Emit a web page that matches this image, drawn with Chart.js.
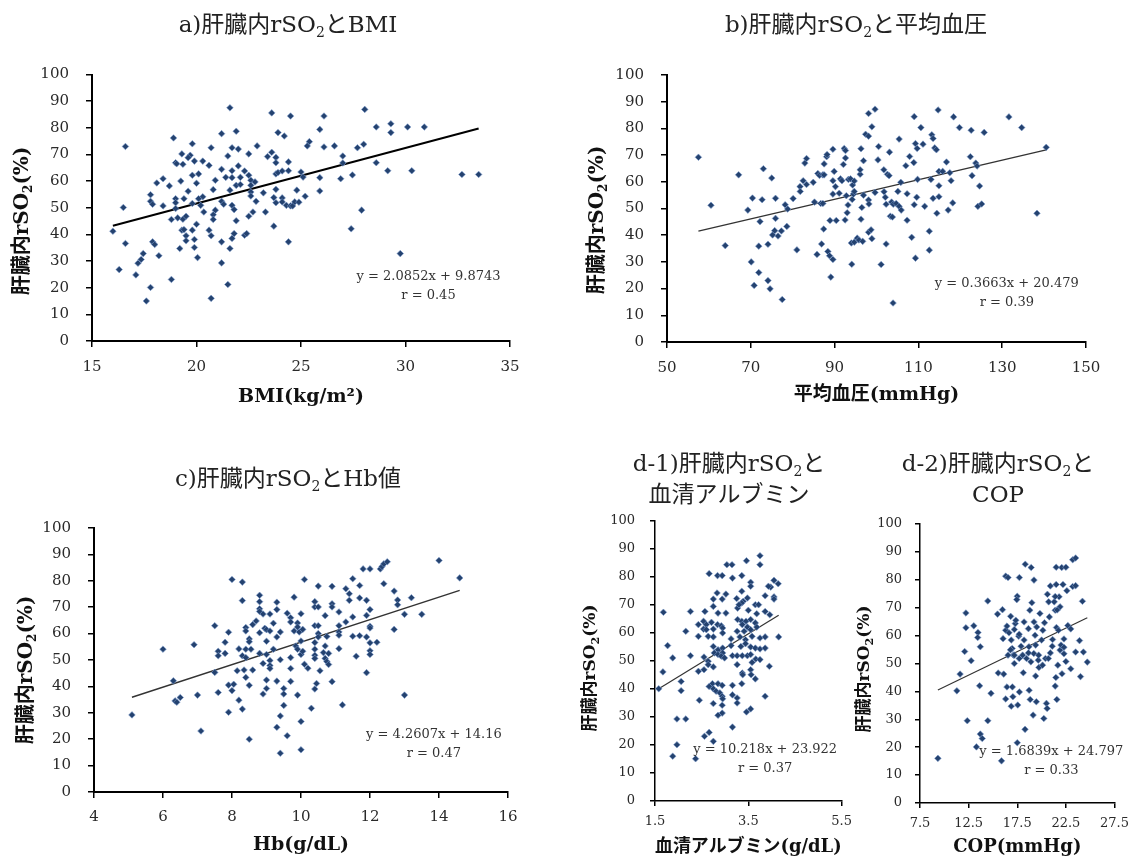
<!DOCTYPE html>
<html>
<head>
<meta charset="utf-8">
<script src="https://cdn.jsdelivr.net/npm/chart.js@4.4.1/dist/chart.umd.min.js"></script>
<style>
html, body { margin: 0; padding: 0; background: #fff; }
#wrap { position: relative; width: 1137px; height: 860px; overflow: hidden; }
.panel { position: absolute; }
</style>
</head>
<body>
<div id="wrap"></div>
<script>
// y axis (all panels)
const rso2Ticks = [0, 10, 20, 30, 40, 50, 60, 70, 80, 90, 100];

// a) BMI
const bmiTicks = [15, 20, 25, 30, 35];
const bmiFit = [2.0852, 9.8743, 0.45];
const bmiPts = [[21.6,87.5],[23.6,85.6],[24.5,84.4],[26.1,84.4],[28.05,86.9],[28.6,80.3],[29.3,81.5],[29.3,78.2],[30.1,80.3],[30.9,80.3],[25.9,79.4],[21.2,77.8],[21.9,78.7],[23.9,78.2],[24.2,76.9],[18.9,76.2],[19.8,74.0],[20.7,72.5],[21.7,72.5],[22.0,72.0],[22.9,73.2],[16.6,73.0],[25.4,74.8],[25.3,73.2],[26.1,72.8],[26.6,73.2],[27.7,72.5],[28.0,73.8],[19.3,70.2],[19.7,69.7],[19.6,68.8],[21.5,69.4],[22.5,70.2],[23.4,69.2],[23.8,68.9],[23.6,70.8],[19.0,66.9],[19.05,66.5],[19.35,66.3],[19.9,67.5],[20.3,67.5],[20.6,65.9],[22.0,65.7],[23.8,66.9],[24.4,67.2],[27.0,69.4],[27.0,66.8],[28.6,66.9],[18.4,60.9],[18.1,59.3],[19.25,60.0],[19.8,62.2],[20.1,62.7],[20.0,59.2],[21.2,64.4],[20.9,60.3],[21.4,61.4],[21.7,61.3],[21.7,63.9],[22.1,61.4],[22.3,63.8],[22.5,62.2],[22.6,60.3],[22.8,59.7],[23.2,55.6],[23.8,62.7],[23.9,63.2],[24.1,63.8],[24.4,63.9],[25.0,63.4],[25.1,61.5],[25.9,61.3],[25.9,56.3],[26.9,60.9],[27.46,62.3],[29.15,63.9],[30.3,63.9],[32.7,62.5],[33.5,62.5],[18.7,58.2],[19.6,56.2],[20.3,54.1],[20.1,53.4],[20.8,56.8],[21.6,56.6],[21.9,58.4],[22.1,58.7],[22.6,58.4],[22.6,55.9],[22.6,54.4],[23.7,53.8],[23.8,56.9],[24.1,53.7],[23.8,51.9],[24.1,52.2],[24.3,50.9],[24.5,50.7],[24.6,50.7],[24.7,52.2],[24.9,52.1],[24.8,56.6],[25.2,54.3],[17.8,54.9],[17.8,52.4],[17.9,51.3],[18.4,50.7],[16.5,50.1],[19.0,53.4],[19.0,51.9],[19.4,53.4],[19.0,49.7],[19.8,51.6],[20.2,50.9],[21.2,52.4],[21.3,51.3],[20.9,49.1],[21.7,50.9],[21.8,49.3],[22.85,52.4],[20.35,48.4],[20.8,47.4],[20.8,45.6],[21.9,45.1],[22.5,46.8],[22.7,48.4],[23.3,48.4],[18.8,45.6],[19.1,46.2],[19.35,45.7],[19.5,46.8],[27.9,49.1],[16.0,41.2],[16.6,36.6],[19.3,41.6],[19.4,41.8],[19.8,41.6],[20.0,43.8],[20.6,41.6],[20.7,39.5],[21.8,40.3],[21.7,38.5],[22.3,39.7],[22.4,40.3],[23.7,43.1],[27.4,42.1],[19.5,39.5],[19.5,37.6],[19.9,38.1],[17.9,37.2],[18.0,36.2],[21.2,37.2],[24.4,37.2],[19.9,35.1],[19.2,34.7],[21.6,34.7],[20.05,31.3],[18.2,32.0],[17.45,32.8],[17.35,30.6],[17.2,29.2],[21.2,29.3],[29.75,32.8],[16.3,26.8],[17.1,24.8],[18.8,23.1],[17.8,20.1],[21.5,21.2],[20.7,16.0],[17.6,15.0]];

// b) mean blood pressure
const mapTicks = [50, 70, 90, 110, 130, 150];
const mapFit = [0.3663, 20.479, 0.39];
const mapPts = [[57.5,69.2],[60.5,51.2],[63.9,36.1],[67.1,62.6],[69.3,49.4],[70.4,53.9],[70.1,30.0],[70.8,21.2],[71.9,26.0],[71.9,35.9],[72.2,45.1],[72.7,53.3],[73.0,64.9],[74.1,36.6],[74.1,23.0],[74.6,19.9],[75.0,61.4],[75.2,40.1],[75.7,41.7],[75.9,53.8],[75.9,46.3],[76.5,39.7],[77.3,41.6],[77.5,15.9],[78.2,51.4],[78.6,43.3],[78.8,49.8],[80.1,53.7],[81.0,34.5],[81.75,58.2],[81.8,56.4],[82.5,60.4],[82.9,67.0],[83.3,68.7],[83.3,59.0],[84.9,59.8],[85.2,52.4],[85.8,32.8],[86.0,63.1],[86.4,62.4],[86.7,51.9],[86.9,36.7],[87.2,62.6],[87.2,51.9],[87.5,66.7],[87.5,62.6],[87.4,42.3],[88.1,69.4],[88.2,70.2],[88.4,33.9],[88.8,32.3],[88.9,45.5],[89.1,24.3],[89.6,30.9],[89.6,72.2],[89.6,60.4],[89.6,55.4],[89.9,63.9],[90.2,58.2],[90.4,45.5],[91.1,55.7],[91.4,61.1],[91.75,60.4],[92.1,66.5],[92.3,72.5],[92.5,45.7],[92.6,71.7],[92.6,68.9],[92.8,54.8],[93.0,48.4],[93.2,51.3],[93.3,60.9],[93.8,61.1],[94.2,53.4],[94.3,58.8],[94.5,55.4],[94.1,29.1],[94.0,37.1],[94.7,60.3],[94.7,56.4],[94.7,37.4],[95.4,38.9],[95.8,38.2],[96.1,62.8],[96.1,64.5],[96.3,72.4],[96.3,46.0],[96.5,50.4],[96.7,37.7],[96.9,67.9],[96.9,55.0],[97.4,77.8],[98.1,85.6],[98.1,77.1],[98.1,53.2],[98.2,51.7],[98.1,41.1],[98.7,42.0],[98.9,80.6],[98.9,38.7],[99.65,87.2],[99.65,56.0],[100.5,73.2],[100.35,68.2],[101.1,29.0],[101.75,64.5],[101.8,56.3],[102.1,54.2],[102.3,51.6],[102.3,36.7],[102.6,62.8],[103.0,62.3],[103.1,71.1],[103.3,47.1],[103.6,52.4],[103.8,46.8],[103.95,14.6],[104.0,51.6],[104.7,51.9],[105.1,56.4],[105.4,76.0],[105.4,50.8],[105.9,49.4],[105.8,59.8],[107.0,66.0],[107.3,55.5],[107.3,45.6],[107.9,69.5],[108.4,39.2],[108.9,67.2],[109.0,51.4],[109.0,84.4],[109.3,74.3],[109.3,31.4],[109.6,54.2],[109.7,72.5],[109.8,60.9],[110.6,80.3],[111.1,74.1],[111.5,50.8],[112.6,41.5],[112.6,34.4],[113.0,60.9],[113.2,77.6],[113.5,76.2],[113.5,53.8],[113.9,72.7],[114.3,72.0],[114.4,48.2],[114.7,86.9],[114.9,58.5],[114.9,54.4],[114.9,63.9],[115.8,63.9],[116.7,67.4],[117.1,49.4],[117.5,63.4],[117.8,60.4],[118.2,52.1],[118.4,84.3],[119.8,80.3],[122.4,69.4],[122.6,79.3],[122.8,62.3],[123.7,67.0],[124.0,65.9],[124.2,50.8],[124.6,58.4],[125.1,51.7],[125.7,78.5],[131.6,84.3],[134.65,80.3],[138.3,48.2],[140.5,72.9]];

// c) Hb
const hbTicks = [4, 6, 8, 10, 12, 14, 16];
const hbFit = [4.2607, 14.16, 0.47];
const hbPts = [[5.1,29.2],[6.0,54.1],[6.3,42.1],[6.35,34.5],[6.4,34.0],[6.5,35.8],[6.9,55.8],[7.0,36.7],[7.1,23.1],[7.5,63.0],[7.5,45.3],[7.6,53.3],[7.6,51.6],[7.6,37.7],[7.8,56.7],[7.8,52.5],[7.9,60.5],[7.9,40.5],[7.9,30.2],[8.0,80.5],[8.05,40.8],[8.0,38.4],[8.2,54.2],[8.15,45.9],[8.2,34.8],[8.3,79.5],[8.3,72.5],[8.3,51.6],[8.3,31.4],[8.35,46.2],[8.4,62.3],[8.4,61.0],[8.4,50.9],[8.4,54.1],[8.4,43.4],[8.5,58.0],[8.5,56.9],[8.5,40.4],[8.55,54.1],[8.5,20.0],[8.6,46.2],[8.6,63.4],[8.7,64.8],[8.8,74.5],[8.8,72.1],[8.8,69.4],[8.8,68.4],[8.8,60.3],[8.8,52.5],[8.9,67.4],[8.9,48.7],[8.9,37.1],[8.95,62.0],[9.0,61.5],[9.0,57.1],[9.0,52.1],[9.0,42.4],[9.0,39.2],[9.1,67.4],[9.1,61.0],[9.1,49.8],[9.1,47.9],[9.1,46.8],[9.2,63.9],[9.2,54.1],[9.3,71.9],[9.3,69.1],[9.3,58.7],[9.3,42.0],[9.3,24.5],[9.4,50.1],[9.4,60.6],[9.4,28.8],[9.4,14.7],[9.5,39.2],[9.5,37.1],[9.5,32.8],[9.6,21.3],[9.6,67.7],[9.7,66.0],[9.7,64.4],[9.7,50.9],[9.7,46.8],[9.7,41.9],[9.8,73.8],[9.8,61.0],[9.85,55.3],[9.9,64.0],[9.9,36.7],[9.9,62.5],[9.95,60.6],[9.9,54.1],[10.0,67.5],[10.0,57.2],[10.0,52.1],[10.0,26.7],[10.0,16.0],[10.05,61.6],[10.05,53.3],[10.1,80.5],[10.1,48.4],[10.2,46.9],[10.3,31.7],[10.4,39.0],[10.4,72.1],[10.4,70.1],[10.4,63.0],[10.4,56.6],[10.4,54.1],[10.4,51.8],[10.4,50.6],[10.45,41.1],[10.5,78.0],[10.5,70.1],[10.5,63.0],[10.5,60.0],[10.5,58.7],[10.55,45.9],[10.65,52.8],[10.7,66.8],[10.7,55.3],[10.7,50.6],[10.75,58.9],[10.75,49.4],[10.8,52.5],[10.8,48.3],[10.9,77.9],[10.9,71.3],[10.9,70.1],[10.9,41.8],[11.1,68.2],[11.1,63.0],[11.1,60.6],[11.1,54.3],[11.1,59.4],[11.2,33.0],[11.3,77.0],[11.3,64.4],[11.4,75.1],[11.4,72.6],[11.5,66.3],[11.5,80.8],[11.5,59.0],[11.6,51.4],[11.7,78.2],[11.7,73.5],[11.7,59.2],[11.8,84.5],[11.9,72.6],[11.9,66.9],[11.9,58.7],[11.9,45.2],[12.0,84.5],[12.0,69.1],[12.0,62.8],[12.0,62.1],[12.0,56.5],[12.0,53.5],[12.0,52.1],[12.2,56.7],[12.3,84.5],[12.35,85.4],[12.4,86.4],[12.5,87.2],[12.4,78.9],[12.7,76.1],[12.7,61.6],[12.8,72.7],[12.8,70.9],[13.0,67.3],[13.0,36.7],[13.2,73.6],[13.5,67.3],[14.0,87.7],[14.6,81.1]];

// d-1) serum albumin
const albTicks = [1.5, 3.5, 5.5];
const albFit = [10.218, 23.922, 0.37];
const albPts = [[3.75,87.6],[3.75,84.4],[3.46,85.8],[3.04,84.4],[3.15,84.4],[2.66,81.2],[2.84,80.5],[2.94,80.5],[3.16,79.6],[3.36,80.5],[3.55,78.1],[3.55,76.7],[4.05,78.8],[4.14,77.6],[3.98,76.4],[3.93,76.7],[2.83,74.3],[3.02,73.9],[2.94,72.1],[2.75,72.1],[3.36,74.9],[3.25,72.3],[3.39,71.3],[3.48,72.5],[3.36,70.7],[3.86,73.3],[4.05,72.9],[4.05,72.1],[1.68,67.4],[2.26,67.7],[2.57,67.7],[2.75,69.5],[2.85,67.1],[3.02,67.1],[3.27,68.9],[3.30,70.1],[3.50,68.1],[3.65,70.1],[3.72,70.1],[3.68,66.9],[3.86,67.7],[3.96,66.5],[2.54,64.2],[2.43,63.0],[2.60,63.0],[2.71,63.8],[2.84,63.0],[2.92,62.6],[2.54,61.4],[2.60,61.2],[2.75,61.4],[2.95,61.8],[3.27,64.8],[3.36,64.2],[3.45,64.2],[3.55,64.8],[3.65,63.6],[3.37,63.0],[3.48,62.1],[3.26,60.6],[3.41,60.6],[3.55,61.2],[3.68,62.1],[2.16,60.6],[2.43,58.8],[2.64,58.8],[2.75,58.6],[2.95,60.0],[3.13,57.9],[3.32,58.6],[3.44,57.6],[3.58,58.8],[3.75,58.2],[3.86,58.6],[4.15,58.6],[1.77,55.5],[2.75,55.2],[2.85,54.0],[2.95,54.6],[3.13,55.5],[3.34,55.2],[3.44,56.2],[3.55,55.0],[3.65,54.6],[3.75,54.3],[3.86,54.6],[2.77,52.9],[2.85,52.3],[2.95,52.9],[3.16,51.9],[3.26,51.9],[3.37,51.9],[3.48,51.9],[3.55,52.3],[3.66,50.7],[3.75,50.5],[2.26,51.9],[1.88,51.1],[2.55,51.4],[2.64,49.9],[2.92,51.7],[2.99,51.1],[3.58,49.5],[3.95,48.1],[1.67,46.1],[2.43,46.3],[2.55,46.9],[2.64,48.7],[2.75,47.9],[3.26,48.7],[3.37,45.7],[3.38,45.1],[3.55,46.9],[3.56,45.1],[3.65,43.6],[2.06,42.7],[2.06,39.4],[1.58,40.1],[2.73,41.9],[2.85,41.9],[2.94,41.3],[2.66,40.9],[2.75,40.1],[2.81,39.2],[2.89,38.6],[2.94,37.4],[3.16,41.3],[3.36,41.9],[3.16,37.9],[3.26,36.8],[3.26,35.0],[2.45,36.0],[2.75,34.8],[2.95,36.5],[2.94,34.2],[3.86,37.4],[2.94,31.4],[2.85,30.6],[3.46,31.8],[3.55,32.9],[1.97,29.3],[2.16,29.3],[3.16,26.4],[2.66,24.5],[2.56,23.1],[2.75,21.3],[1.97,20.1],[1.88,16.0],[2.37,15.1]];

// d-2) COP
const copTicks = [7.5, 12.5, 17.5, 22.5, 27.5];
const copFit = [1.6839, 24.797, 0.33];
const copPts = [[9.34,16.0],[11.29,40.2],[11.62,46.2],[12.22,68.1],[12.22,62.8],[12.09,54.3],[12.36,29.5],[12.76,51.0],[13.03,63.5],[13.46,61.1],[13.43,59.3],[13.7,56.0],[13.63,42.0],[13.7,24.7],[13.3,20.1],[13.9,23.1],[14.47,72.4],[14.47,29.5],[14.8,39.3],[15.47,67.7],[15.54,46.6],[15.98,69.3],[15.88,15.1],[16.11,46.2],[16.04,58.9],[16.31,61.9],[16.44,63.4],[16.31,81.3],[16.55,80.8],[16.65,61.0],[16.82,66.9],[16.88,58.4],[16.98,55.4],[17.1,53.0],[16.55,53.0],[16.44,41.6],[16.31,37.3],[17.0,41.6],[17.05,38.1],[16.88,34.7],[17.3,64.3],[17.35,65.5],[17.5,74.1],[17.45,72.9],[17.65,59.8],[17.72,80.8],[17.72,39.8],[17.55,35.1],[17.89,56.2],[18.05,53.0],[18.32,85.6],[18.12,46.7],[18.45,51.8],[18.65,62.5],[18.79,69.1],[18.72,40.4],[18.83,37.1],[18.93,84.4],[19.0,71.8],[19.22,79.9],[19.22,64.9],[19.33,60.1],[19.39,56.6],[19.39,45.5],[19.46,36.3],[19.13,31.5],[18.3,26.4],[17.5,21.6],[19.66,51.2],[19.73,48.6],[19.83,67.9],[20.0,58.4],[20.13,61.9],[20.3,64.6],[20.4,51.8],[20.5,35.7],[20.57,33.9],[20.6,74.8],[20.73,72.1],[20.8,66.7],[20.9,53.8],[20.9,77.8],[21.13,58.6],[20.23,30.3],[21.3,72.1],[21.4,69.1],[21.53,62.9],[21.47,45.0],[21.4,41.9],[21.57,37.1],[21.67,49.4],[21.74,61.9],[21.8,73.9],[21.9,70.3],[21.9,54.8],[22.0,56.6],[22.07,84.4],[21.5,84.5],[22.5,84.5],[22.2,78.3],[22.6,76.1],[23.2,77.6],[23.5,77.9],[23.2,87.2],[23.5,87.8],[22.7,63.6],[23.0,62.4],[22.3,58.8],[22.3,55.8],[22.3,53.5],[22.5,50.7],[22.1,46.3],[23.0,48.1],[23.9,58.2],[23.5,54.1],[24.3,54.1],[24.0,45.3],[24.2,72.3],[24.7,50.5],[21.5,78.3],[21.4,74.0],[21.6,69.2],[17.2,62.2],[17.7,60.5],[18.2,58.4],[18.7,56.0],[19.2,53.6],[19.7,53.0],[20.1,49.4],[20.7,51.8],[21.1,56.2],[18.2,64.9],[19.5,63.1],[16.8,54.9],[17.2,53.0],[17.7,51.8],[18.65,53.8],[17.2,50.0],[18.9,50.6]];

const SERIF = "'DejaVu Serif', 'Noto Sans CJK JP', serif";
const YTITLE = '肝臓内rSO₂(%)';

// text with a real subscript 2 (the ₂ in the string is drawn lowered and small)
function drawRich(ctx, text, cx, cy, size, weight) {
  const parts = text.split('₂');
  const big = weight + ' ' + size + 'px ' + SERIF;
  const small = weight + ' ' + Math.round(size * 0.62) + 'px ' + SERIF;
  const segs = [];
  parts.forEach((t, i) => {
    segs.push({ t, f: big, dy: 0 });
    if (i < parts.length - 1) segs.push({ t: '2', f: small, dy: size * 0.3 });
  });
  let total = 0;
  segs.forEach(s => { ctx.font = s.f; s.w = ctx.measureText(s.t).width; total += s.w; });
  let x = cx - total / 2;
  ctx.textAlign = 'left';
  ctx.textBaseline = 'middle';
  segs.forEach(s => { ctx.font = s.f; ctx.fillText(s.t, x, cy + s.dy); x += s.w; });
}

// titles, rotated y title and regression text drawn on the canvas
const panelText = {
  id: 'panelText',
  afterDraw(chart, args, o) {
    const ctx = chart.ctx;
    ctx.save();
    ctx.fillStyle = '#222';
    o.title.forEach((t, i) => drawRich(ctx, t, o.titleX, o.titleY + i * o.titleGap, 23, 'normal'));

    ctx.save();
    ctx.fillStyle = '#111';
    ctx.translate(o.yTitleAt[0], o.yTitleAt[1]);
    ctx.rotate(-Math.PI / 2);
    drawRich(ctx, YTITLE, 0, 0, o.yTitleSize, 'bold');
    ctx.restore();

    ctx.font = '13px ' + SERIF;
    ctx.fillStyle = '#333';
    ctx.textAlign = 'center';
    ctx.textBaseline = 'middle';
    const sx = chart.scales.x, sy = chart.scales.y;
    o.notes.forEach(n => ctx.fillText(n.text, sx.getPixelForValue(n.x), sy.getPixelForValue(n.y)));
    ctx.restore();
  }
};
Chart.register(panelText);

function makePanel(p) {
  const box = document.createElement('div');
  box.className = 'panel';
  box.style.left = p.box[0] + 'px';
  box.style.top = p.box[1] + 'px';
  box.style.width = p.box[2] + 'px';
  box.style.height = p.box[3] + 'px';
  const cv = document.createElement('canvas');
  box.appendChild(cv);
  document.getElementById('wrap').appendChild(box);

  const xs = p.points.map(d => d[0]);
  const lo = Math.min(...xs), hi = Math.max(...xs);
  const [m, b, r] = p.fit;

  new Chart(cv, {
    type: 'scatter',
    data: {
      datasets: [{
        data: p.points.map(d => ({ x: d[0], y: d[1] })),
        pointStyle: 'rectRot',
        pointRadius: 3.3,
        backgroundColor: '#24426f',
        borderColor: '#7d9ccc',
        borderWidth: 0.6
      }, {
        type: 'line',
        data: [{ x: lo, y: m * lo + b }, { x: hi, y: m * hi + b }],
        borderColor: p.lineColor,
        borderWidth: p.lineWidth,
        pointRadius: 0,
        fill: false
      }]
    },
    options: {
      responsive: true,
      maintainAspectRatio: false,
      animation: false,
      layout: { padding: p.pad },
      plugins: {
        legend: { display: false },
        tooltip: { enabled: false },
        panelText: {
          title: p.title, titleX: p.titleAt[0], titleY: p.titleAt[1], titleGap: 31,
          yTitleAt: p.yTitleAt, yTitleSize: p.yTitleSize,
          notes: [
            { text: 'y = ' + m + 'x + ' + b, x: p.noteAt[0], y: p.noteAt[1] },
            { text: 'r = ' + r, x: p.noteAt[0], y: p.noteAt[2] }
          ]
        }
      },
      scales: {
        x: {
          type: 'linear',
          min: p.xTicks[0],
          max: p.xTicks[p.xTicks.length - 1],
          afterBuildTicks: s => { s.ticks = p.xTicks.map(v => ({ value: v })); },
          afterFit: s => { s.height = p.xH; },
          grid: { drawOnChartArea: false, tickLength: p.tickLen, color: '#000', lineWidth: 1.5 },
          border: { color: '#000', width: p.axisWidth },
          ticks: { autoSkip: false, maxRotation: 0, padding: p.xTickPad, color: '#2a2a2a',
                   font: { family: SERIF, size: p.tickSize }, callback: v => String(v) },
          title: { display: true, text: p.xTitle, color: '#111',
                   font: { family: SERIF, size: p.xTitleSize, weight: 'bold' },
                   padding: { top: 0, bottom: p.xTitlePad } }
        },
        y: {
          min: 0,
          max: 100,
          afterBuildTicks: s => { s.ticks = rso2Ticks.map(v => ({ value: v })); },
          afterFit: s => { s.width = p.yW; },
          grid: { drawOnChartArea: false, tickLength: p.tickLen, color: '#000', lineWidth: 1.5 },
          border: { color: '#000', width: p.axisWidth },
          ticks: { padding: p.yTickPad, color: '#2a2a2a',
                   font: { family: SERIF, size: p.tickSize }, callback: v => String(v) },
          title: { display: false }
        }
      }
    }
  });
}

makePanel({
  box: [0, 0, 560, 420], pad: { top: 74.5, left: 0, right: 50, bottom: 0 },
  yW: 92, xH: 79, points: bmiPts, fit: bmiFit, xTicks: bmiTicks,
  title: ['a)肝臓内rSO₂とBMI'], titleAt: [288, 26],
  xTitle: 'BMI(kg/m²)', xTitleSize: 19, xTitlePad: 11.6,
  yTitleAt: [23, 221], yTitleSize: 20, tickSize: 15, tickLen: 6, xTickPad: 11, yTickPad: 17,
  axisWidth: 2, lineColor: '#000', lineWidth: 2, noteAt: [31.1, 24.1, 17.2]
});

makePanel({
  box: [560, 0, 577, 420], pad: { top: 75, left: 15, right: 51, bottom: 0 },
  yW: 92, xH: 78, points: mapPts, fit: mapFit, xTicks: mapTicks,
  title: ['b)肝臓内rSO₂と平均血圧'], titleAt: [296, 26],
  xTitle: '平均血圧(mmHg)', xTitleSize: 19, xTitlePad: 13.6,
  yTitleAt: [38, 220], yTitleSize: 20, tickSize: 15, tickLen: 6, xTickPad: 11, yTickPad: 17,
  axisWidth: 2, lineColor: '#333', lineWidth: 1.4, noteAt: [131.1, 21.8, 14.9]
});

makePanel({
  box: [0, 430, 560, 430], pad: { top: 98, left: 2, right: 52, bottom: 0 },
  yW: 92, xH: 68, points: hbPts, fit: hbFit, xTicks: hbTicks,
  title: ['c)肝臓内rSO₂とHb値'], titleAt: [288, 50],
  xTitle: 'Hb(g/dL)', xTitleSize: 19, xTitlePad: 3.6,
  yTitleAt: [27, 240], yTitleSize: 20, tickSize: 15, tickLen: 6, xTickPad: 10, yTickPad: 17,
  axisWidth: 2, lineColor: '#333', lineWidth: 1.4, noteAt: [13.85, 21.6, 14.7]
});

makePanel({
  box: [560, 430, 300, 430], pad: { top: 91, left: 0, right: 13, bottom: 0 },
  yW: 95, xH: 59, points: albPts, fit: albFit, xTicks: albTicks,
  title: ['d-1)肝臓内rSO₂と', '血清アルブミン'], titleAt: [169, 35],
  xTitle: '血清アルブミン(g/dL)', xTitleSize: 18, xTitlePad: 2.2,
  yTitleAt: [31, 238], yTitleSize: 17, tickSize: 13, tickLen: 5, xTickPad: 8, yTickPad: 15,
  axisWidth: 1.5, lineColor: '#333', lineWidth: 1.2, noteAt: [3.86, 18.4, 11.6]
});

makePanel({
  box: [845, 430, 292, 430], pad: { top: 94, left: 0, right: 18, bottom: 0 },
  yW: 75, xH: 57, points: copPts, fit: copFit, xTicks: copTicks,
  title: ['d-2)肝臓内rSO₂と', 'COP'], titleAt: [153, 35],
  xTitle: 'COP(mmHg)', xTitleSize: 18, xTitlePad: 2.2,
  yTitleAt: [20, 239], yTitleSize: 17, tickSize: 13, tickLen: 5, xTickPad: 8, yTickPad: 13,
  axisWidth: 1.5, lineColor: '#333', lineWidth: 1.2, noteAt: [21.0, 18.3, 11.7]
});
</script>
</body>
</html>
